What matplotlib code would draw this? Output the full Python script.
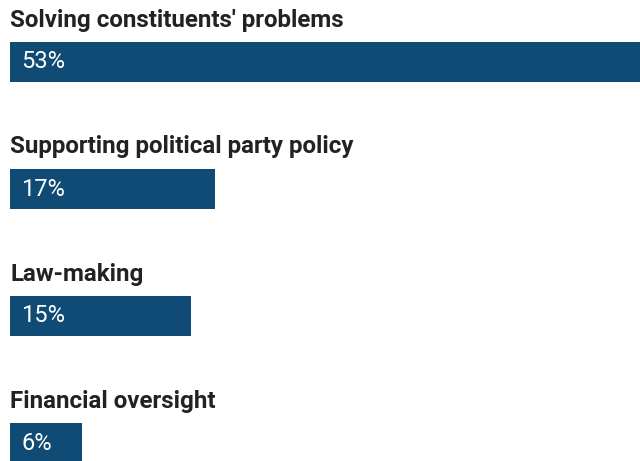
import matplotlib
matplotlib.use("Agg")
import matplotlib.pyplot as plt

categories = [
    "Solving constituents' problems",
    "Supporting political party policy",
    "Law-making",
    "Financial oversight",
]
values = [53, 17, 15, 6]
value_labels = ["53%", "17%", "15%", "6%"]

BAR_COLOR = "#0f4b74"
TEXT_COLOR = "#222222"

W, H = 640, 461
fig = plt.figure(figsize=(W / 100, H / 100), dpi=100)
fig.patch.set_facecolor("white")

left_px = 10
px_per_unit = 12.07  # horizontal scale: pixels per percentage point
ax = fig.add_axes([left_px / W, 0, (W - left_px) / W, 1])
ax.set_xlim(0, (W - left_px) / px_per_unit)

pitch = 127.0       # row spacing in pixels
first_center = 62.0  # centre of first bar in pixels
ax.set_ylim((H - first_center) / pitch, -first_center / pitch)
ax.axis("off")

bar_h = 40 / pitch
rows = range(len(categories))
ax.barh(list(rows), values, height=bar_h, color=BAR_COLOR, edgecolor="none")

px_x = 1 / px_per_unit
for i, (cat, lab) in enumerate(zip(categories, value_labels)):
    ax.text(0, i - 42 / pitch, cat, ha="left", va="center",
            fontsize=17.4, fontweight="bold", family=["Roboto", "DejaVu Sans"],
            color=TEXT_COLOR)
    ax.text(11.5 * px_x, i, lab, ha="left", va="center",
            fontsize=17, family=["Roboto", "DejaVu Sans"], color="white")

fig.savefig("out.png", dpi=100, facecolor="white")
